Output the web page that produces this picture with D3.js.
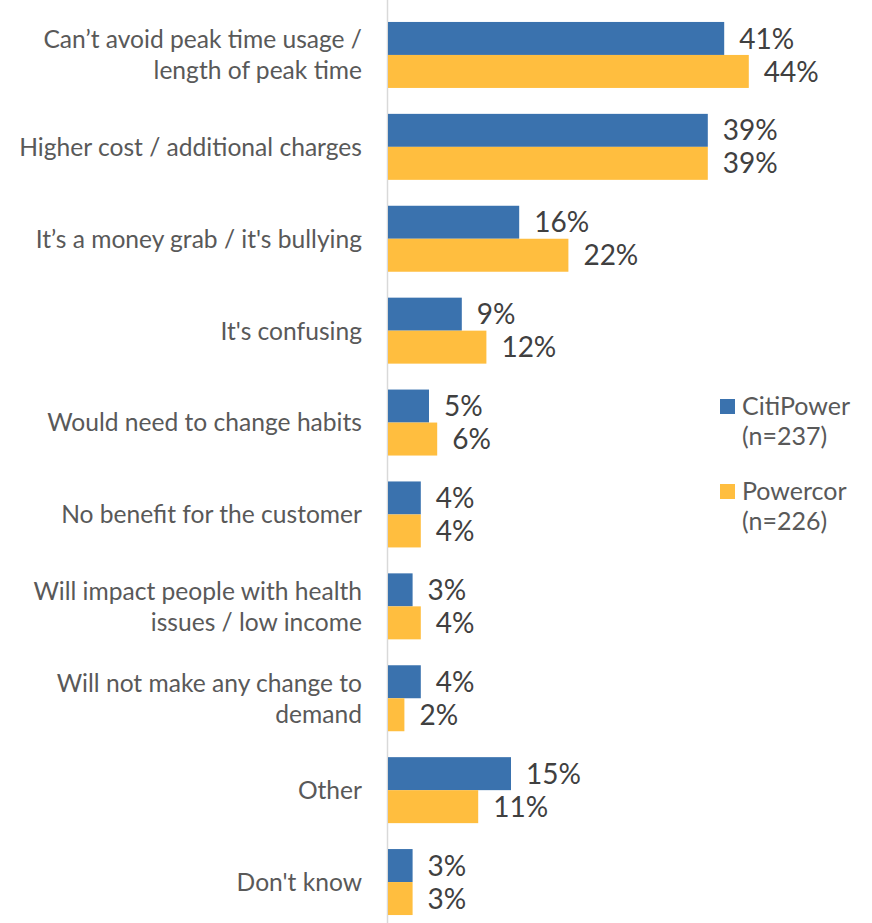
<!DOCTYPE html>
<html>
<head>
<meta charset="utf-8">
<script src="https://cdn.jsdelivr.net/npm/d3@7"></script>
<style>
  html, body { margin: 0; padding: 0; background: #fff; }
  svg { display: block; }
</style>
</head>
<body>
<svg id="chart" width="872" height="923"></svg>
<script>
// Reasons given, in display order (top to bottom); "\n" marks a line break
const categories = [
  "Can’t avoid peak time usage /\nlength of peak time",
  "Higher cost / additional charges",
  "It’s a money grab / it's bullying",
  "It's confusing",
  "Would need to change habits",
  "No benefit for the customer",
  "Will impact people with health\nissues / low income",
  "Will not make any change to\ndemand",
  "Other",
  "Don't know"
];
const citiPower = [41, 39, 16, 9, 5, 4, 3, 4, 15, 3];
const powercor  = [44, 39, 22, 12, 6, 4, 4, 2, 11, 3];
const seriesNames = ["CitiPower", "Powercor"];
const seriesSamples = ["(n=237)", "(n=226)"];
const seriesColors = ["#3A72AE", "#FFBE3F"];

const FONT = "Lato, 'Open Sans', sans-serif";
const svg = d3.select("#chart");

const rows = categories.map((c, i) => ({ cat: c, vals: [citiPower[i], powercor[i]] }));

const y = d3.scaleBand()
  .domain(categories)
  .range([9, 928])
  .paddingInner(0.282)
  .paddingOuter(0.141);

const ySeries = d3.scaleBand()
  .domain(seriesNames)
  .range([0, y.bandwidth()]);

const x = d3.scaleLinear()
  .domain([0, 50])
  .range([388, 798]);

// category axis line
svg.append("line")
  .attr("x1", 387.5).attr("x2", 387.5)
  .attr("y1", 0).attr("y2", 923)
  .attr("stroke", "#D9D9D9").attr("stroke-width", 1.5);

const groups = svg.selectAll("g.cat")
  .data(rows)
  .join("g")
  .attr("class", "cat")
  .attr("transform", d => `translate(0,${y(d.cat)})`);

groups.selectAll("rect")
  .data(d => d.vals.map((v, j) => ({ v, s: seriesNames[j], j })))
  .join("rect")
  .attr("x", x(0))
  .attr("y", d => ySeries(d.s))
  .attr("width", d => x(d.v) - x(0))
  .attr("height", ySeries.bandwidth())
  .attr("fill", d => seriesColors[d.j]);

groups.selectAll("text.val")
  .data(d => d.vals.map((v, j) => ({ v, s: seriesNames[j], j })))
  .join("text")
  .attr("class", "val")
  .attr("x", d => x(d.v) + 15)
  .attr("y", d => ySeries(d.s) + ySeries.bandwidth() / 2)
  .attr("dy", "0.36em")
  .attr("font-family", FONT)
  .attr("font-size", 28)
  .attr("fill", "#404040")
  .text(d => d.v + "%");

// category labels, right-aligned against the axis
const lineH = 31;
groups.append("text")
  .attr("text-anchor", "end")
  .attr("font-family", FONT)
  .attr("font-size", 24.6)
  .attr("fill", "#595959")
  .each(function (d) {
    const lines = d.cat.split("\n");
    const t = d3.select(this);
    const c = y.bandwidth() / 2;
    lines.forEach((ln, k) => {
      t.append("tspan")
        .attr("x", 362)
        .attr("y", c + (k - (lines.length - 1) / 2) * lineH)
        .attr("dy", "0.36em")
        .text(ln);
    });
  });

// legend
const legend = svg.append("g");
const legendTop = [399, 484];
seriesNames.forEach((name, j) => {
  const g = legend.append("g").attr("transform", `translate(720,${legendTop[j]})`);
  g.append("rect").attr("width", 15).attr("height", 15).attr("fill", seriesColors[j]);
  const t = g.append("text")
    .attr("font-family", FONT)
    .attr("font-size", 25)
    .attr("fill", "#595959");
  t.append("tspan").attr("x", 22).attr("y", 16).text(name);
  t.append("tspan").attr("x", 22).attr("y", 46).text(seriesSamples[j]);
});
</script>
</body>
</html>
